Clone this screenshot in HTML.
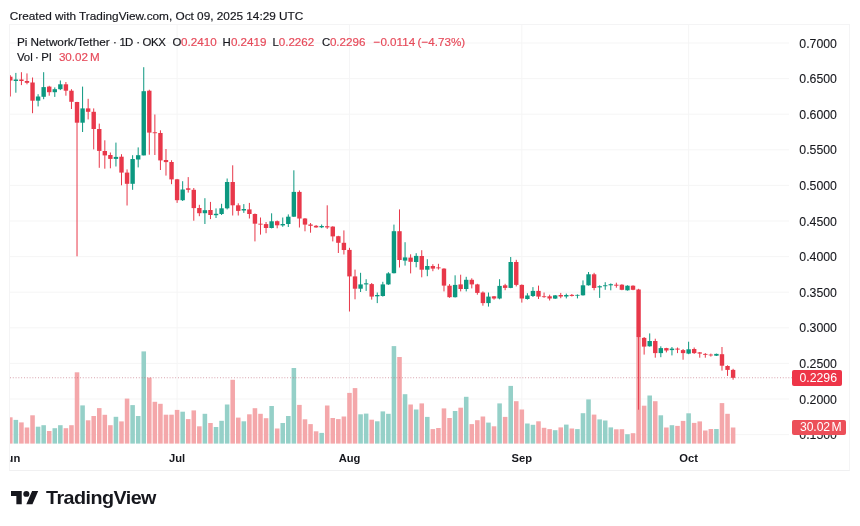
<!DOCTYPE html>
<html><head><meta charset="utf-8"><title>PIUSDT chart</title>
<style>
html,body{margin:0;padding:0;background:#fff;}
body{-webkit-text-stroke:0.18px currentColor;width:860px;height:526px;position:relative;overflow:hidden;font-family:"Liberation Sans",Arial,sans-serif;color:#16171d;}
.abs{position:absolute;white-space:nowrap;}
#hdr{left:9.8px;top:8.6px;font-size:11.8px;line-height:14px;}
#frame{left:9px;top:24px;width:841px;height:446.6px;border:1px solid #f4f4f5;border-bottom-color:#f0f0f1;box-sizing:border-box;}
#pane{left:0;top:0;width:860px;height:526px;}
#clip{left:9.5px;top:25px;width:840.5px;height:444px;overflow:hidden;}
#clip svg{position:absolute;left:-9.5px;top:-25px;}
.lg{font-size:11.4px;line-height:14px;top:35px;}
.red{color:#F23645;}
.nm{color:#e64a5a;font-size:11.65px;}
.pl{position:absolute;left:799.3px;font-size:12.3px;line-height:16px;height:16px;white-space:nowrap;}
.tl{position:absolute;top:450.5px;font-size:11.2px;font-weight:bold;line-height:16px;-webkit-text-stroke:0;white-space:nowrap;transform:translateX(-50%);}
#plab,#vlab{-webkit-text-stroke:0;}
.pl{-webkit-text-stroke:0.1px currentColor;}
#plab{left:792.2px;top:370.1px;width:49.4px;height:15.5px;background:#ee3548;border-radius:2px;color:#fff;font-size:12.3px;line-height:16.2px;text-indent:7.2px;}
#vlab{left:792.2px;top:420px;width:53.6px;height:15.1px;background:#ec4f59;border-radius:2px;color:#fff;font-size:12.2px;line-height:15.6px;text-indent:7.8px;letter-spacing:-0.1px;}
#logo{left:11.4px;top:488.15px;}
#wm{left:46.4px;top:487px;font-size:18.2px;font-weight:bold;line-height:22px;letter-spacing:-0.5px;color:#16171d;transform:scaleX(1.085);transform-origin:0 0;-webkit-text-stroke:0;}
#root{position:absolute;left:0;top:0;width:860px;height:526px;will-change:transform;transform:translateZ(0);}
</style></head><body><div id="root">
<div class="abs" id="hdr">Created with TradingView.com, Oct 09, 2025 14:29 UTC</div>
<div class="abs" id="frame"></div>
<div class="abs" id="clip">
<svg width="860" height="526" viewBox="0 0 860 526" shape-rendering="auto">
<rect x="10" y="42.5" width="779" height="1" fill="#f5f5f6"/>
<rect x="10" y="78.1" width="779" height="1" fill="#f5f5f6"/>
<rect x="10" y="113.7" width="779" height="1" fill="#f5f5f6"/>
<rect x="10" y="149.3" width="779" height="1" fill="#f5f5f6"/>
<rect x="10" y="184.9" width="779" height="1" fill="#f5f5f6"/>
<rect x="10" y="220.5" width="779" height="1" fill="#f5f5f6"/>
<rect x="10" y="256.1" width="779" height="1" fill="#f5f5f6"/>
<rect x="10" y="291.7" width="779" height="1" fill="#f5f5f6"/>
<rect x="10" y="327.3" width="779" height="1" fill="#f5f5f6"/>
<rect x="10" y="362.9" width="779" height="1" fill="#f5f5f6"/>
<rect x="10" y="398.5" width="779" height="1" fill="#f5f5f6"/>
<rect x="10" y="434.1" width="779" height="1" fill="#f5f5f6"/>
<rect x="176.6" y="25" width="1" height="418.4" fill="#f5f5f6"/>
<rect x="349" y="25" width="1" height="418.4" fill="#f5f5f6"/>
<rect x="521.3" y="25" width="1" height="418.4" fill="#f5f5f6"/>
<rect x="688.1" y="25" width="1" height="418.4" fill="#f5f5f6"/>
<rect x="8.03" y="417.3" width="4.55" height="26.3" fill="#f4a7aa"/>
<rect x="13.58" y="419.9" width="4.55" height="23.7" fill="#95d0c8"/>
<rect x="19.15" y="422.4" width="4.55" height="21.2" fill="#f4a7aa"/>
<rect x="24.71" y="427.5" width="4.55" height="16.1" fill="#f4a7aa"/>
<rect x="30.27" y="415.3" width="4.55" height="28.3" fill="#f4a7aa"/>
<rect x="35.82" y="426.7" width="4.55" height="16.9" fill="#95d0c8"/>
<rect x="41.38" y="425.2" width="4.55" height="18.4" fill="#95d0c8"/>
<rect x="46.95" y="431" width="4.55" height="12.6" fill="#f4a7aa"/>
<rect x="52.51" y="428.2" width="4.55" height="15.4" fill="#95d0c8"/>
<rect x="58.07" y="425.2" width="4.55" height="18.4" fill="#95d0c8"/>
<rect x="63.62" y="428.2" width="4.55" height="15.4" fill="#f4a7aa"/>
<rect x="69.18" y="425.2" width="4.55" height="18.4" fill="#f4a7aa"/>
<rect x="74.74" y="372.3" width="4.55" height="71.3" fill="#f4a7aa"/>
<rect x="80.3" y="405.4" width="4.55" height="38.2" fill="#95d0c8"/>
<rect x="85.86" y="420.3" width="4.55" height="23.3" fill="#f4a7aa"/>
<rect x="91.42" y="416" width="4.55" height="27.6" fill="#f4a7aa"/>
<rect x="96.98" y="408.1" width="4.55" height="35.5" fill="#f4a7aa"/>
<rect x="102.54" y="414.8" width="4.55" height="28.8" fill="#f4a7aa"/>
<rect x="108.1" y="425.2" width="4.55" height="18.4" fill="#f4a7aa"/>
<rect x="113.66" y="416.8" width="4.55" height="26.8" fill="#95d0c8"/>
<rect x="119.22" y="421.4" width="4.55" height="22.2" fill="#f4a7aa"/>
<rect x="124.78" y="398.6" width="4.55" height="45" fill="#f4a7aa"/>
<rect x="130.34" y="405.1" width="4.55" height="38.5" fill="#95d0c8"/>
<rect x="135.91" y="416" width="4.55" height="27.6" fill="#95d0c8"/>
<rect x="141.47" y="351.4" width="4.55" height="92.2" fill="#95d0c8"/>
<rect x="147.03" y="377.6" width="4.55" height="66" fill="#f4a7aa"/>
<rect x="152.59" y="401.8" width="4.55" height="41.8" fill="#f4a7aa"/>
<rect x="158.14" y="403.8" width="4.55" height="39.8" fill="#f4a7aa"/>
<rect x="163.7" y="414.7" width="4.55" height="28.9" fill="#f4a7aa"/>
<rect x="169.26" y="414.7" width="4.55" height="28.9" fill="#f4a7aa"/>
<rect x="174.82" y="409.9" width="4.55" height="33.7" fill="#f4a7aa"/>
<rect x="180.38" y="411.7" width="4.55" height="31.9" fill="#95d0c8"/>
<rect x="185.94" y="419.1" width="4.55" height="24.5" fill="#f4a7aa"/>
<rect x="191.5" y="410.4" width="4.55" height="33.2" fill="#f4a7aa"/>
<rect x="197.06" y="426.3" width="4.55" height="17.3" fill="#f4a7aa"/>
<rect x="202.62" y="413.8" width="4.55" height="29.8" fill="#95d0c8"/>
<rect x="208.19" y="423" width="4.55" height="20.6" fill="#f4a7aa"/>
<rect x="213.75" y="427" width="4.55" height="16.6" fill="#95d0c8"/>
<rect x="219.3" y="420.8" width="4.55" height="22.8" fill="#95d0c8"/>
<rect x="224.86" y="404.5" width="4.55" height="39.1" fill="#95d0c8"/>
<rect x="230.42" y="379.8" width="4.55" height="63.8" fill="#f4a7aa"/>
<rect x="235.98" y="417.6" width="4.55" height="26" fill="#f4a7aa"/>
<rect x="241.54" y="421.3" width="4.55" height="22.3" fill="#95d0c8"/>
<rect x="247.1" y="414.3" width="4.55" height="29.3" fill="#f4a7aa"/>
<rect x="252.66" y="408.2" width="4.55" height="35.4" fill="#f4a7aa"/>
<rect x="258.23" y="413.8" width="4.55" height="29.8" fill="#f4a7aa"/>
<rect x="263.79" y="418.2" width="4.55" height="25.4" fill="#f4a7aa"/>
<rect x="269.35" y="406" width="4.55" height="37.6" fill="#95d0c8"/>
<rect x="274.91" y="428.5" width="4.55" height="15.1" fill="#f4a7aa"/>
<rect x="280.47" y="423" width="4.55" height="20.6" fill="#95d0c8"/>
<rect x="286.03" y="416" width="4.55" height="27.6" fill="#95d0c8"/>
<rect x="291.59" y="368" width="4.55" height="75.6" fill="#95d0c8"/>
<rect x="297.15" y="404.9" width="4.55" height="38.7" fill="#f4a7aa"/>
<rect x="302.71" y="419.3" width="4.55" height="24.3" fill="#f4a7aa"/>
<rect x="308.26" y="424.1" width="4.55" height="19.5" fill="#f4a7aa"/>
<rect x="313.82" y="431.3" width="4.55" height="12.3" fill="#f4a7aa"/>
<rect x="319.38" y="432.9" width="4.55" height="10.7" fill="#95d0c8"/>
<rect x="324.94" y="405.5" width="4.55" height="38.1" fill="#f4a7aa"/>
<rect x="330.5" y="418" width="4.55" height="25.6" fill="#f4a7aa"/>
<rect x="336.06" y="419.1" width="4.55" height="24.5" fill="#f4a7aa"/>
<rect x="341.62" y="416.5" width="4.55" height="27.1" fill="#f4a7aa"/>
<rect x="347.19" y="392.9" width="4.55" height="50.7" fill="#f4a7aa"/>
<rect x="352.75" y="388.1" width="4.55" height="55.5" fill="#f4a7aa"/>
<rect x="358.31" y="414.3" width="4.55" height="29.3" fill="#95d0c8"/>
<rect x="363.87" y="413.6" width="4.55" height="30" fill="#95d0c8"/>
<rect x="369.43" y="419.7" width="4.55" height="23.9" fill="#f4a7aa"/>
<rect x="374.99" y="421.3" width="4.55" height="22.3" fill="#95d0c8"/>
<rect x="380.55" y="411.4" width="4.55" height="32.2" fill="#95d0c8"/>
<rect x="386.11" y="413.8" width="4.55" height="29.8" fill="#95d0c8"/>
<rect x="391.67" y="346.1" width="4.55" height="97.5" fill="#95d0c8"/>
<rect x="397.23" y="357" width="4.55" height="86.6" fill="#f4a7aa"/>
<rect x="402.79" y="394.2" width="4.55" height="49.4" fill="#95d0c8"/>
<rect x="408.35" y="404.5" width="4.55" height="39.1" fill="#f4a7aa"/>
<rect x="413.91" y="409.5" width="4.55" height="34.1" fill="#95d0c8"/>
<rect x="419.47" y="403.4" width="4.55" height="40.2" fill="#f4a7aa"/>
<rect x="425.02" y="416.9" width="4.55" height="26.7" fill="#95d0c8"/>
<rect x="430.58" y="429.1" width="4.55" height="14.5" fill="#f4a7aa"/>
<rect x="436.14" y="428" width="4.55" height="15.6" fill="#f4a7aa"/>
<rect x="441.7" y="408.4" width="4.55" height="35.2" fill="#f4a7aa"/>
<rect x="447.26" y="418" width="4.55" height="25.6" fill="#f4a7aa"/>
<rect x="452.82" y="411" width="4.55" height="32.6" fill="#95d0c8"/>
<rect x="458.38" y="407.7" width="4.55" height="35.9" fill="#f4a7aa"/>
<rect x="463.94" y="396.8" width="4.55" height="46.8" fill="#95d0c8"/>
<rect x="469.5" y="424.1" width="4.55" height="19.5" fill="#f4a7aa"/>
<rect x="475.06" y="420.2" width="4.55" height="23.4" fill="#f4a7aa"/>
<rect x="480.62" y="416.5" width="4.55" height="27.1" fill="#f4a7aa"/>
<rect x="486.19" y="422.6" width="4.55" height="21" fill="#95d0c8"/>
<rect x="491.75" y="426.3" width="4.55" height="17.3" fill="#f4a7aa"/>
<rect x="497.31" y="403.4" width="4.55" height="40.2" fill="#95d0c8"/>
<rect x="502.87" y="416.9" width="4.55" height="26.7" fill="#f4a7aa"/>
<rect x="508.43" y="385.9" width="4.55" height="57.7" fill="#95d0c8"/>
<rect x="513.99" y="401.2" width="4.55" height="42.4" fill="#f4a7aa"/>
<rect x="519.54" y="409.5" width="4.55" height="34.1" fill="#f4a7aa"/>
<rect x="525.1" y="423.5" width="4.55" height="20.1" fill="#95d0c8"/>
<rect x="530.66" y="424.8" width="4.55" height="18.8" fill="#95d0c8"/>
<rect x="536.22" y="421.3" width="4.55" height="22.3" fill="#f4a7aa"/>
<rect x="541.78" y="427.8" width="4.55" height="15.8" fill="#f4a7aa"/>
<rect x="547.34" y="429.1" width="4.55" height="14.5" fill="#f4a7aa"/>
<rect x="552.9" y="430.2" width="4.55" height="13.4" fill="#95d0c8"/>
<rect x="558.46" y="427.4" width="4.55" height="16.2" fill="#f4a7aa"/>
<rect x="564.02" y="424.6" width="4.55" height="19" fill="#95d0c8"/>
<rect x="569.58" y="428.5" width="4.55" height="15.1" fill="#f4a7aa"/>
<rect x="575.14" y="429.1" width="4.55" height="14.5" fill="#95d0c8"/>
<rect x="580.7" y="413.2" width="4.55" height="30.4" fill="#95d0c8"/>
<rect x="586.26" y="399.4" width="4.55" height="44.2" fill="#95d0c8"/>
<rect x="591.82" y="414.6" width="4.55" height="29" fill="#f4a7aa"/>
<rect x="597.38" y="419.4" width="4.55" height="24.2" fill="#95d0c8"/>
<rect x="602.94" y="420.5" width="4.55" height="23.1" fill="#95d0c8"/>
<rect x="608.5" y="427.4" width="4.55" height="16.2" fill="#95d0c8"/>
<rect x="614.06" y="429.3" width="4.55" height="14.3" fill="#f4a7aa"/>
<rect x="619.62" y="429.2" width="4.55" height="14.4" fill="#f4a7aa"/>
<rect x="625.18" y="434.2" width="4.55" height="9.4" fill="#95d0c8"/>
<rect x="630.74" y="433.2" width="4.55" height="10.4" fill="#f4a7aa"/>
<rect x="636.3" y="338" width="4.55" height="105.6" fill="#f4a7aa"/>
<rect x="641.86" y="405.7" width="4.55" height="37.9" fill="#f4a7aa"/>
<rect x="647.42" y="395.5" width="4.55" height="48.1" fill="#95d0c8"/>
<rect x="652.98" y="401.2" width="4.55" height="42.4" fill="#f4a7aa"/>
<rect x="658.54" y="415.3" width="4.55" height="28.3" fill="#95d0c8"/>
<rect x="664.1" y="427.5" width="4.55" height="16.1" fill="#f4a7aa"/>
<rect x="669.66" y="425.2" width="4.55" height="18.4" fill="#95d0c8"/>
<rect x="675.22" y="425.9" width="4.55" height="17.7" fill="#f4a7aa"/>
<rect x="680.78" y="420.9" width="4.55" height="22.7" fill="#f4a7aa"/>
<rect x="686.34" y="413.3" width="4.55" height="30.3" fill="#95d0c8"/>
<rect x="691.9" y="422.9" width="4.55" height="20.7" fill="#f4a7aa"/>
<rect x="697.46" y="421.4" width="4.55" height="22.2" fill="#f4a7aa"/>
<rect x="703.02" y="430.5" width="4.55" height="13.1" fill="#f4a7aa"/>
<rect x="708.58" y="429" width="4.55" height="14.6" fill="#f4a7aa"/>
<rect x="714.14" y="429" width="4.55" height="14.6" fill="#95d0c8"/>
<rect x="719.7" y="403.1" width="4.55" height="40.5" fill="#f4a7aa"/>
<rect x="725.26" y="413.8" width="4.55" height="29.8" fill="#f4a7aa"/>
<rect x="730.82" y="427.5" width="4.55" height="16.1" fill="#f4a7aa"/>
<line x1="10" y1="377.8" x2="792" y2="377.8" stroke="#b8586a" stroke-width="1.1" stroke-dasharray="0.9 1.9" opacity="0.6"/>
<rect x="9.8" y="75.2" width="1.0" height="21.3" fill="#e8384a"/>
<rect x="8.1" y="76.7" width="4.4" height="3.8" fill="#e8384a"/>
<rect x="15.36" y="72.9" width="1.0" height="19.8" fill="#0c9880"/>
<rect x="13.66" y="79.5" width="4.4" height="1.5" fill="#0c9880"/>
<rect x="20.92" y="72.2" width="1.0" height="12.9" fill="#e8384a"/>
<rect x="19.22" y="79.5" width="4.4" height="1.5" fill="#e8384a"/>
<rect x="26.48" y="73.4" width="1.0" height="10.9" fill="#e8384a"/>
<rect x="24.78" y="81" width="4.4" height="1.8" fill="#e8384a"/>
<rect x="32.04" y="77.5" width="1.0" height="35.7" fill="#e8384a"/>
<rect x="30.34" y="82.5" width="4.4" height="18.2" fill="#e8384a"/>
<rect x="37.6" y="94.2" width="1.0" height="12.2" fill="#0c9880"/>
<rect x="35.9" y="96.5" width="4.4" height="4.2" fill="#0c9880"/>
<rect x="43.16" y="72.2" width="1.0" height="27" fill="#0c9880"/>
<rect x="41.46" y="87.1" width="4.4" height="9.7" fill="#0c9880"/>
<rect x="48.72" y="85.8" width="1.0" height="9.9" fill="#e8384a"/>
<rect x="47.02" y="86.6" width="4.4" height="5.6" fill="#e8384a"/>
<rect x="54.28" y="87.4" width="1.0" height="9.5" fill="#0c9880"/>
<rect x="52.58" y="89.2" width="4.4" height="3" fill="#0c9880"/>
<rect x="59.84" y="80.5" width="1.0" height="9.6" fill="#0c9880"/>
<rect x="58.14" y="84.3" width="4.4" height="4.9" fill="#0c9880"/>
<rect x="65.4" y="82" width="1.0" height="13.7" fill="#e8384a"/>
<rect x="63.7" y="84.3" width="4.4" height="6.4" fill="#e8384a"/>
<rect x="70.96" y="89.2" width="1.0" height="19.8" fill="#e8384a"/>
<rect x="69.26" y="90.7" width="4.4" height="11.1" fill="#e8384a"/>
<rect x="76.52" y="101.8" width="1.0" height="154.5" fill="#e8384a"/>
<rect x="74.82" y="102" width="4.4" height="20.7" fill="#e8384a"/>
<rect x="82.08" y="86.6" width="1.0" height="45.4" fill="#0c9880"/>
<rect x="80.38" y="108.4" width="4.4" height="14.3" fill="#0c9880"/>
<rect x="87.64" y="98.8" width="1.0" height="20.6" fill="#e8384a"/>
<rect x="85.94" y="108.4" width="4.4" height="3.4" fill="#e8384a"/>
<rect x="93.2" y="108.4" width="1.0" height="41" fill="#e8384a"/>
<rect x="91.5" y="111.8" width="4.4" height="17.2" fill="#e8384a"/>
<rect x="98.76" y="123.6" width="1.0" height="44.2" fill="#e8384a"/>
<rect x="97.06" y="129" width="4.4" height="21.9" fill="#e8384a"/>
<rect x="104.32" y="140.3" width="1.0" height="28.4" fill="#e8384a"/>
<rect x="102.62" y="151" width="4.4" height="4.4" fill="#e8384a"/>
<rect x="109.88" y="152.5" width="1.0" height="15.8" fill="#e8384a"/>
<rect x="108.18" y="155" width="4.4" height="3.9" fill="#e8384a"/>
<rect x="115.44" y="142.6" width="1.0" height="23.9" fill="#0c9880"/>
<rect x="113.74" y="156.9" width="4.4" height="2" fill="#0c9880"/>
<rect x="121" y="154.2" width="1.0" height="31.1" fill="#e8384a"/>
<rect x="119.3" y="156.7" width="4.4" height="15.9" fill="#e8384a"/>
<rect x="126.56" y="169.4" width="1.0" height="36.1" fill="#e8384a"/>
<rect x="124.86" y="172.6" width="4.4" height="11.2" fill="#e8384a"/>
<rect x="132.12" y="155.2" width="1.0" height="34.6" fill="#0c9880"/>
<rect x="130.42" y="159" width="4.4" height="24.8" fill="#0c9880"/>
<rect x="137.68" y="147.4" width="1.0" height="20" fill="#0c9880"/>
<rect x="135.98" y="155.2" width="4.4" height="4.3" fill="#0c9880"/>
<rect x="143.24" y="67.2" width="1.0" height="88.2" fill="#0c9880"/>
<rect x="141.54" y="91.2" width="4.4" height="64.2" fill="#0c9880"/>
<rect x="148.8" y="89.7" width="1.0" height="65" fill="#e8384a"/>
<rect x="147.1" y="90.7" width="4.4" height="41.9" fill="#e8384a"/>
<rect x="154.36" y="114.5" width="1.0" height="40.5" fill="#e8384a"/>
<rect x="152.66" y="132.3" width="4.4" height="0.9" fill="#e8384a"/>
<rect x="159.92" y="130.3" width="1.0" height="39.7" fill="#e8384a"/>
<rect x="158.22" y="133" width="4.4" height="27.4" fill="#e8384a"/>
<rect x="165.48" y="149" width="1.0" height="26.6" fill="#e8384a"/>
<rect x="163.78" y="160" width="4.4" height="2.1" fill="#e8384a"/>
<rect x="171.04" y="160.2" width="1.0" height="24" fill="#e8384a"/>
<rect x="169.34" y="162" width="4.4" height="17.4" fill="#e8384a"/>
<rect x="176.6" y="178.9" width="1.0" height="24" fill="#e8384a"/>
<rect x="174.9" y="179.3" width="4.4" height="20.9" fill="#e8384a"/>
<rect x="182.16" y="181.2" width="1.0" height="19.8" fill="#0c9880"/>
<rect x="180.46" y="189.5" width="4.4" height="10.7" fill="#0c9880"/>
<rect x="187.72" y="177.1" width="1.0" height="15.5" fill="#e8384a"/>
<rect x="186.02" y="188.3" width="4.4" height="1.5" fill="#e8384a"/>
<rect x="193.28" y="188" width="1.0" height="32.7" fill="#e8384a"/>
<rect x="191.58" y="189.8" width="4.4" height="18.3" fill="#e8384a"/>
<rect x="198.84" y="204.8" width="1.0" height="11.4" fill="#e8384a"/>
<rect x="197.14" y="208" width="4.4" height="5.2" fill="#e8384a"/>
<rect x="204.4" y="198.2" width="1.0" height="25.8" fill="#0c9880"/>
<rect x="202.7" y="210.2" width="4.4" height="3" fill="#0c9880"/>
<rect x="209.96" y="201.9" width="1.0" height="17.2" fill="#e8384a"/>
<rect x="208.26" y="210" width="4.4" height="5" fill="#e8384a"/>
<rect x="215.52" y="208.4" width="1.0" height="9.6" fill="#0c9880"/>
<rect x="213.82" y="213.8" width="4.4" height="1.4" fill="#0c9880"/>
<rect x="221.08" y="203.8" width="1.0" height="11.2" fill="#0c9880"/>
<rect x="219.38" y="208.3" width="4.4" height="5.7" fill="#0c9880"/>
<rect x="226.64" y="178.5" width="1.0" height="30.9" fill="#0c9880"/>
<rect x="224.94" y="182" width="4.4" height="26.3" fill="#0c9880"/>
<rect x="232.2" y="165.3" width="1.0" height="50.2" fill="#e8384a"/>
<rect x="230.5" y="182" width="4.4" height="23.3" fill="#e8384a"/>
<rect x="237.76" y="203.3" width="1.0" height="12.2" fill="#e8384a"/>
<rect x="236.06" y="205.3" width="4.4" height="5.6" fill="#e8384a"/>
<rect x="243.32" y="204.1" width="1.0" height="8.8" fill="#0c9880"/>
<rect x="241.62" y="209" width="4.4" height="1.5" fill="#0c9880"/>
<rect x="248.88" y="202.9" width="1.0" height="15.6" fill="#e8384a"/>
<rect x="247.18" y="209.4" width="4.4" height="4.6" fill="#e8384a"/>
<rect x="254.44" y="213.5" width="1.0" height="27.9" fill="#e8384a"/>
<rect x="252.74" y="214" width="4.4" height="9.7" fill="#e8384a"/>
<rect x="260" y="217.5" width="1.0" height="17.1" fill="#e8384a"/>
<rect x="258.3" y="223.7" width="4.4" height="0.9" fill="#e8384a"/>
<rect x="265.56" y="222" width="1.0" height="11.2" fill="#e8384a"/>
<rect x="263.86" y="224.1" width="4.4" height="3.9" fill="#e8384a"/>
<rect x="271.12" y="213.3" width="1.0" height="15.1" fill="#0c9880"/>
<rect x="269.42" y="221.3" width="4.4" height="6.7" fill="#0c9880"/>
<rect x="276.68" y="220.5" width="1.0" height="7.8" fill="#e8384a"/>
<rect x="274.98" y="221.2" width="4.4" height="4.1" fill="#e8384a"/>
<rect x="282.24" y="217.5" width="1.0" height="9.3" fill="#0c9880"/>
<rect x="280.54" y="224" width="4.4" height="1.4" fill="#0c9880"/>
<rect x="287.8" y="214.4" width="1.0" height="12.6" fill="#0c9880"/>
<rect x="286.1" y="216.7" width="4.4" height="7.3" fill="#0c9880"/>
<rect x="293.36" y="170.3" width="1.0" height="46.7" fill="#0c9880"/>
<rect x="291.66" y="191.9" width="4.4" height="24.8" fill="#0c9880"/>
<rect x="298.92" y="190.4" width="1.0" height="37.1" fill="#e8384a"/>
<rect x="297.22" y="191.9" width="4.4" height="26.6" fill="#e8384a"/>
<rect x="304.48" y="218" width="1.0" height="13.3" fill="#e8384a"/>
<rect x="302.78" y="218.5" width="4.4" height="6.1" fill="#e8384a"/>
<rect x="310.04" y="223" width="1.0" height="9.7" fill="#e8384a"/>
<rect x="308.34" y="224.5" width="4.4" height="1.3" fill="#e8384a"/>
<rect x="315.6" y="225" width="1.0" height="2.8" fill="#e8384a"/>
<rect x="313.9" y="225.8" width="4.4" height="1.6" fill="#e8384a"/>
<rect x="321.16" y="224.5" width="1.0" height="3.6" fill="#0c9880"/>
<rect x="319.46" y="226" width="4.4" height="1.3" fill="#0c9880"/>
<rect x="326.72" y="205.3" width="1.0" height="23.6" fill="#e8384a"/>
<rect x="325.02" y="226.2" width="4.4" height="1.2" fill="#e8384a"/>
<rect x="332.28" y="226.2" width="1.0" height="15.2" fill="#e8384a"/>
<rect x="330.58" y="226.6" width="4.4" height="9.8" fill="#e8384a"/>
<rect x="337.84" y="235.8" width="1.0" height="17.2" fill="#e8384a"/>
<rect x="336.14" y="236.2" width="4.4" height="6.6" fill="#e8384a"/>
<rect x="343.4" y="230.4" width="1.0" height="24.1" fill="#e8384a"/>
<rect x="341.7" y="242.8" width="4.4" height="7.2" fill="#e8384a"/>
<rect x="348.96" y="247.8" width="1.0" height="63.7" fill="#e8384a"/>
<rect x="347.26" y="249.9" width="4.4" height="26.5" fill="#e8384a"/>
<rect x="354.52" y="269.6" width="1.0" height="29.7" fill="#e8384a"/>
<rect x="352.82" y="276.4" width="4.4" height="12.3" fill="#e8384a"/>
<rect x="360.08" y="272.8" width="1.0" height="19.2" fill="#0c9880"/>
<rect x="358.38" y="284.4" width="4.4" height="4.3" fill="#0c9880"/>
<rect x="365.64" y="279.2" width="1.0" height="11.7" fill="#0c9880"/>
<rect x="363.94" y="283.3" width="4.4" height="1.1" fill="#0c9880"/>
<rect x="371.2" y="283" width="1.0" height="16.6" fill="#e8384a"/>
<rect x="369.5" y="284.1" width="4.4" height="12.5" fill="#e8384a"/>
<rect x="376.76" y="292.5" width="1.0" height="10.6" fill="#0c9880"/>
<rect x="375.06" y="295" width="4.4" height="1.3" fill="#0c9880"/>
<rect x="382.32" y="281.8" width="1.0" height="14.8" fill="#0c9880"/>
<rect x="380.62" y="284.4" width="4.4" height="11.6" fill="#0c9880"/>
<rect x="387.88" y="272.2" width="1.0" height="12.7" fill="#0c9880"/>
<rect x="386.18" y="273.4" width="4.4" height="11" fill="#0c9880"/>
<rect x="393.44" y="224.6" width="1.0" height="48.8" fill="#0c9880"/>
<rect x="391.74" y="231.2" width="4.4" height="42" fill="#0c9880"/>
<rect x="399" y="209.4" width="1.0" height="58.1" fill="#e8384a"/>
<rect x="397.3" y="231.2" width="4.4" height="28.8" fill="#e8384a"/>
<rect x="404.56" y="242.2" width="1.0" height="23.4" fill="#0c9880"/>
<rect x="402.86" y="257.4" width="4.4" height="3.2" fill="#0c9880"/>
<rect x="410.12" y="254.3" width="1.0" height="19.1" fill="#e8384a"/>
<rect x="408.42" y="257.6" width="4.4" height="4.2" fill="#e8384a"/>
<rect x="415.68" y="253.2" width="1.0" height="14.1" fill="#0c9880"/>
<rect x="413.98" y="255.9" width="4.4" height="6.1" fill="#0c9880"/>
<rect x="421.24" y="250.2" width="1.0" height="27.1" fill="#e8384a"/>
<rect x="419.54" y="256" width="4.4" height="13.7" fill="#e8384a"/>
<rect x="426.8" y="259.2" width="1.0" height="17" fill="#0c9880"/>
<rect x="425.1" y="266" width="4.4" height="3.7" fill="#0c9880"/>
<rect x="432.36" y="264.2" width="1.0" height="7" fill="#e8384a"/>
<rect x="430.66" y="266" width="4.4" height="2.6" fill="#e8384a"/>
<rect x="437.92" y="263.8" width="1.0" height="5.8" fill="#e8384a"/>
<rect x="436.22" y="267.4" width="4.4" height="0.9" fill="#e8384a"/>
<rect x="443.48" y="268.2" width="1.0" height="23.2" fill="#e8384a"/>
<rect x="441.78" y="268.6" width="4.4" height="17" fill="#e8384a"/>
<rect x="449.04" y="284.1" width="1.0" height="13.7" fill="#e8384a"/>
<rect x="447.34" y="285.7" width="4.4" height="11.5" fill="#e8384a"/>
<rect x="454.6" y="275.3" width="1.0" height="22.2" fill="#0c9880"/>
<rect x="452.9" y="284.9" width="4.4" height="12.3" fill="#0c9880"/>
<rect x="460.16" y="274.7" width="1.0" height="16.7" fill="#e8384a"/>
<rect x="458.46" y="284.4" width="4.4" height="4.6" fill="#e8384a"/>
<rect x="465.72" y="276.8" width="1.0" height="14.6" fill="#0c9880"/>
<rect x="464.02" y="279.8" width="4.4" height="9.2" fill="#0c9880"/>
<rect x="471.28" y="278.3" width="1.0" height="10.1" fill="#e8384a"/>
<rect x="469.58" y="279.8" width="4.4" height="4.6" fill="#e8384a"/>
<rect x="476.84" y="283.8" width="1.0" height="10.9" fill="#e8384a"/>
<rect x="475.14" y="284.4" width="4.4" height="8.5" fill="#e8384a"/>
<rect x="482.4" y="291.4" width="1.0" height="14.3" fill="#e8384a"/>
<rect x="480.7" y="292.5" width="4.4" height="10.6" fill="#e8384a"/>
<rect x="487.96" y="292.5" width="1.0" height="14.1" fill="#0c9880"/>
<rect x="486.26" y="296.6" width="4.4" height="6.5" fill="#0c9880"/>
<rect x="493.52" y="296" width="1.0" height="3.6" fill="#e8384a"/>
<rect x="491.82" y="296.3" width="4.4" height="2.2" fill="#e8384a"/>
<rect x="499.08" y="279.2" width="1.0" height="20.1" fill="#0c9880"/>
<rect x="497.38" y="285.9" width="4.4" height="12.6" fill="#0c9880"/>
<rect x="504.64" y="283.8" width="1.0" height="6.4" fill="#e8384a"/>
<rect x="502.94" y="285.3" width="4.4" height="2.6" fill="#e8384a"/>
<rect x="510.2" y="257" width="1.0" height="31.2" fill="#0c9880"/>
<rect x="508.5" y="262" width="4.4" height="25.9" fill="#0c9880"/>
<rect x="515.76" y="259.8" width="1.0" height="26.6" fill="#e8384a"/>
<rect x="514.06" y="262" width="4.4" height="22.9" fill="#e8384a"/>
<rect x="521.32" y="284.4" width="1.0" height="18.2" fill="#e8384a"/>
<rect x="519.62" y="284.9" width="4.4" height="13.6" fill="#e8384a"/>
<rect x="526.88" y="293.2" width="1.0" height="6.4" fill="#0c9880"/>
<rect x="525.18" y="295.5" width="4.4" height="3.5" fill="#0c9880"/>
<rect x="532.44" y="287.1" width="1.0" height="9.9" fill="#0c9880"/>
<rect x="530.74" y="290.9" width="4.4" height="5.1" fill="#0c9880"/>
<rect x="538" y="285.6" width="1.0" height="13.4" fill="#e8384a"/>
<rect x="536.3" y="290.9" width="4.4" height="5.7" fill="#e8384a"/>
<rect x="543.56" y="292.5" width="1.0" height="5.3" fill="#e8384a"/>
<rect x="541.86" y="296.3" width="4.4" height="0.8" fill="#e8384a"/>
<rect x="549.12" y="294.7" width="1.0" height="5.8" fill="#e8384a"/>
<rect x="547.42" y="296.3" width="4.4" height="2.2" fill="#e8384a"/>
<rect x="554.68" y="295" width="1.0" height="4" fill="#0c9880"/>
<rect x="552.98" y="295.4" width="4.4" height="3.2" fill="#0c9880"/>
<rect x="560.24" y="292.9" width="1.0" height="5.3" fill="#e8384a"/>
<rect x="558.54" y="295" width="4.4" height="1.5" fill="#e8384a"/>
<rect x="565.8" y="293.6" width="1.0" height="4.8" fill="#0c9880"/>
<rect x="564.1" y="295" width="4.4" height="1.5" fill="#0c9880"/>
<rect x="571.36" y="294" width="1.0" height="2.5" fill="#e8384a"/>
<rect x="569.66" y="294.9" width="4.4" height="1" fill="#e8384a"/>
<rect x="576.92" y="294.4" width="1.0" height="4" fill="#0c9880"/>
<rect x="575.22" y="294.9" width="4.4" height="0.8" fill="#0c9880"/>
<rect x="582.48" y="280.4" width="1.0" height="15.2" fill="#0c9880"/>
<rect x="580.78" y="285.3" width="4.4" height="10" fill="#0c9880"/>
<rect x="588.04" y="272" width="1.0" height="13.6" fill="#0c9880"/>
<rect x="586.34" y="274.3" width="4.4" height="11" fill="#0c9880"/>
<rect x="593.6" y="272.8" width="1.0" height="17.5" fill="#e8384a"/>
<rect x="591.9" y="274.3" width="4.4" height="13.7" fill="#e8384a"/>
<rect x="599.16" y="285.3" width="1.0" height="12.6" fill="#0c9880"/>
<rect x="597.46" y="286.2" width="4.4" height="1.2" fill="#0c9880"/>
<rect x="604.72" y="282.2" width="1.0" height="7.6" fill="#0c9880"/>
<rect x="603.02" y="285.3" width="4.4" height="0.9" fill="#0c9880"/>
<rect x="610.28" y="283.4" width="1.0" height="6.9" fill="#0c9880"/>
<rect x="608.58" y="284.2" width="4.4" height="1.1" fill="#0c9880"/>
<rect x="615.84" y="282.7" width="1.0" height="5" fill="#e8384a"/>
<rect x="614.14" y="284.7" width="4.4" height="1" fill="#e8384a"/>
<rect x="621.4" y="284.2" width="1.0" height="6" fill="#e8384a"/>
<rect x="619.7" y="284.7" width="4.4" height="5.1" fill="#e8384a"/>
<rect x="626.96" y="285.3" width="1.0" height="5.3" fill="#0c9880"/>
<rect x="625.26" y="285.7" width="4.4" height="4.6" fill="#0c9880"/>
<rect x="632.52" y="285.3" width="1.0" height="4.9" fill="#e8384a"/>
<rect x="630.82" y="285.7" width="4.4" height="4.1" fill="#e8384a"/>
<rect x="638.08" y="288.8" width="1.0" height="120.9" fill="#e8384a"/>
<rect x="636.38" y="289.5" width="4.4" height="48" fill="#e8384a"/>
<rect x="643.64" y="337" width="1.0" height="17.6" fill="#e8384a"/>
<rect x="641.94" y="337.9" width="4.4" height="8.7" fill="#e8384a"/>
<rect x="649.2" y="333.4" width="1.0" height="13.2" fill="#0c9880"/>
<rect x="647.5" y="341" width="4.4" height="5.3" fill="#0c9880"/>
<rect x="654.76" y="338.7" width="1.0" height="19" fill="#e8384a"/>
<rect x="653.06" y="341" width="4.4" height="12.1" fill="#e8384a"/>
<rect x="660.32" y="346.3" width="1.0" height="10.9" fill="#0c9880"/>
<rect x="658.62" y="348.1" width="4.4" height="5" fill="#0c9880"/>
<rect x="665.88" y="347.8" width="1.0" height="4.6" fill="#e8384a"/>
<rect x="664.18" y="348.1" width="4.4" height="2.4" fill="#e8384a"/>
<rect x="671.44" y="347" width="1.0" height="8.4" fill="#0c9880"/>
<rect x="669.74" y="348.6" width="4.4" height="1.5" fill="#0c9880"/>
<rect x="677" y="347.5" width="1.0" height="5.6" fill="#e8384a"/>
<rect x="675.3" y="348.6" width="4.4" height="1" fill="#e8384a"/>
<rect x="682.56" y="349" width="1.0" height="10.7" fill="#e8384a"/>
<rect x="680.86" y="350.1" width="4.4" height="3" fill="#e8384a"/>
<rect x="688.12" y="341.7" width="1.0" height="12.5" fill="#0c9880"/>
<rect x="686.42" y="349.3" width="4.4" height="4.3" fill="#0c9880"/>
<rect x="693.68" y="347.5" width="1.0" height="6.4" fill="#e8384a"/>
<rect x="691.98" y="349" width="4.4" height="4.1" fill="#e8384a"/>
<rect x="699.24" y="352" width="1.0" height="5.7" fill="#e8384a"/>
<rect x="697.54" y="352.4" width="4.4" height="1.2" fill="#e8384a"/>
<rect x="704.8" y="353.1" width="1.0" height="4.6" fill="#e8384a"/>
<rect x="703.1" y="353.9" width="4.4" height="0.9" fill="#e8384a"/>
<rect x="710.36" y="353.6" width="1.0" height="3" fill="#e8384a"/>
<rect x="708.66" y="354.6" width="4.4" height="0.8" fill="#e8384a"/>
<rect x="715.92" y="353.6" width="1.0" height="2.4" fill="#0c9880"/>
<rect x="714.22" y="353.9" width="4.4" height="1.8" fill="#0c9880"/>
<rect x="721.48" y="347" width="1.0" height="23.6" fill="#e8384a"/>
<rect x="719.78" y="354.2" width="4.4" height="11.5" fill="#e8384a"/>
<rect x="727.04" y="365.3" width="1.0" height="10.6" fill="#e8384a"/>
<rect x="725.34" y="366" width="4.4" height="3.9" fill="#e8384a"/>
<rect x="732.6" y="368.8" width="1.0" height="10.9" fill="#e8384a"/>
<rect x="730.9" y="369.9" width="4.4" height="7.9" fill="#e8384a"/>
</svg>
<div class="tl" style="left:0.8px;top:424.6px">Jun</div>
<div class="tl" style="left:167.6px;top:424.6px">Jul</div>
<div class="tl" style="left:340px;top:424.6px">Aug</div>
<div class="tl" style="left:512.3px;top:424.6px">Sep</div>
<div class="tl" style="left:679.1px;top:424.6px">Oct</div>
</div>
<div class="abs lg" style="left:16.9px;font-size:11.75px;">Pi Network/Tether</div>
<div class="abs lg" style="left:113.1px;">·</div>
<div class="abs lg" style="left:119.6px;letter-spacing:-0.9px;">1D</div>
<div class="abs lg" style="left:136.3px;">·</div>
<div class="abs lg" style="left:142.6px;letter-spacing:-0.45px;">OKX</div>
<div class="abs lg" style="left:172.5px;">O</div><div class="abs lg nm" style="left:181.1px;">0.2410</div>
<div class="abs lg" style="left:222.4px;">H</div><div class="abs lg nm" style="left:230.9px;">0.2419</div>
<div class="abs lg" style="left:272.6px;">L</div><div class="abs lg nm" style="left:278.7px;">0.2262</div>
<div class="abs lg" style="left:322px;">C</div><div class="abs lg nm" style="left:329.9px;">0.2296</div>
<div class="abs lg nm" style="left:373.6px;">−0.0114</div>
<div class="abs lg nm" style="left:417.6px;">(−4.73%)</div>
<div class="abs lg" style="left:16.9px;top:50.3px;word-spacing:-0.8px;">Vol · PI</div>
<div class="abs lg nm" style="left:58.9px;top:50.3px;">30.02<span style="font-size:7px"> </span>M</div>
<div class="pl" style="top:35.5px">0.7000</div>
<div class="pl" style="top:71.1px">0.6500</div>
<div class="pl" style="top:106.7px">0.6000</div>
<div class="pl" style="top:142.3px">0.5500</div>
<div class="pl" style="top:177.9px">0.5000</div>
<div class="pl" style="top:213.5px">0.4500</div>
<div class="pl" style="top:249.1px">0.4000</div>
<div class="pl" style="top:284.7px">0.3500</div>
<div class="pl" style="top:320.3px">0.3000</div>
<div class="pl" style="top:355.9px">0.2500</div>
<div class="pl" style="top:391.5px">0.2000</div>
<div class="pl" style="top:427.1px">0.1500</div>

<div class="abs" id="plab">0.2296</div>
<div class="abs" id="vlab">30.02<span style="font-size:6px"> </span>M</div>
<svg class="abs" id="logo" width="27.6" height="20.6" preserveAspectRatio="none" viewBox="0 0 36 28"><path fill="#16171d" d="M14 22H7V11H0V4h14v18zM28 22h-8l7.5-18h8L28 22z"/><circle fill="#16171d" cx="20" cy="8" r="4"/></svg>
<div class="abs" id="wm">TradingView</div>
</div></body></html>
